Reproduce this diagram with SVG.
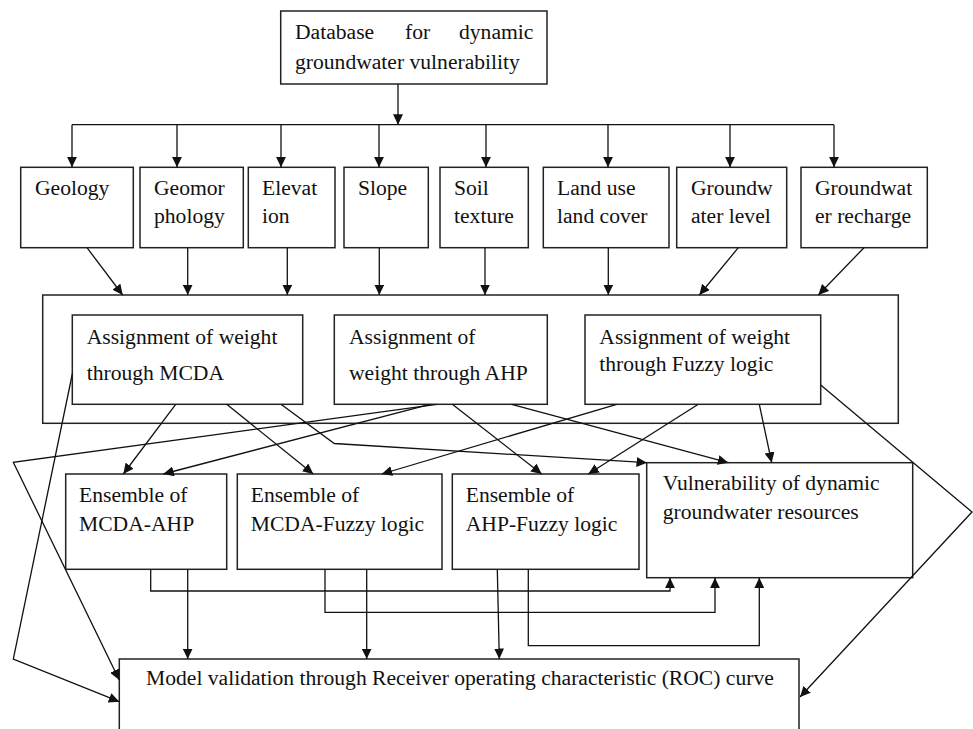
<svg xmlns="http://www.w3.org/2000/svg" width="973" height="729" viewBox="0 0 973 729">
<style>
.box{fill:#fff;stroke:#222;stroke-width:1.5}
.outer{fill:none;stroke:#222;stroke-width:1.5}
.t{font-family:"Liberation Serif","Times New Roman",serif;font-size:21.6px;fill:#111}
.c{fill:none;stroke:#111;stroke-width:1.3}
.a{marker-end:url(#ah)}
</style>
<defs>
<marker id="ah" markerUnits="userSpaceOnUse" markerWidth="11" markerHeight="10" refX="10.5" refY="5" orient="auto">
<path d="M0,0 L10.5,5 L0,10 z" fill="#111"/>
</marker>
</defs>
<rect width="973" height="729" fill="#fff"/>
<g id="assignment-container"><rect class="outer" x="42.7" y="295" width="855.6" height="128.3"/></g>
<g id="database"><rect class="box" x="280.7" y="11" width="266.3" height="73"/>
<text class="t" y="38.5"><tspan x="295">Database</tspan><tspan x="405">for</tspan><tspan x="459">dynamic</tspan></text>
<text class="t" x="295" y="69">groundwater vulnerability</text></g>
<g id="geology"><rect class="box" x="20.7" y="167.3" width="112.6" height="80.4"/><text class="t" x="35" y="195">Geology</text></g>
<g id="geomorphology"><rect class="box" x="140" y="167.3" width="103.3" height="80.4"/><text class="t" x="154" y="195">Geomor</text><text class="t" x="154" y="223">phology</text></g>
<g id="elevation"><rect class="box" x="248.3" y="167.3" width="86.7" height="80.4"/><text class="t" x="262" y="195">Elevat</text><text class="t" x="262" y="223">ion</text></g>
<g id="slope"><rect class="box" x="344" y="167.3" width="84.3" height="80.4"/><text class="t" x="358" y="195">Slope</text></g>
<g id="soil"><rect class="box" x="440" y="167.3" width="88.3" height="80.4"/><text class="t" x="454" y="195">Soil</text><text class="t" x="454" y="223">texture</text></g>
<g id="landuse"><rect class="box" x="543.3" y="167.3" width="125.7" height="80.4"/><text class="t" x="557" y="195">Land use</text><text class="t" x="557" y="223">land cover</text></g>
<g id="gwlevel"><rect class="box" x="676.7" y="167.3" width="110" height="80.4"/><text class="t" x="691" y="195">Groundw</text><text class="t" x="691" y="223">ater level</text></g>
<g id="gwrecharge"><rect class="box" x="801" y="167.3" width="126.3" height="80.4"/><text class="t" x="815" y="195">Groundwat</text><text class="t" x="815" y="223">er recharge</text></g>
<g id="mcda"><rect class="box" x="72.3" y="315" width="230.4" height="89.3"/><text class="t" x="86.7" y="344">Assignment of weight</text><text class="t" x="86.7" y="380">through MCDA</text></g>
<g id="ahp"><rect class="box" x="334.3" y="315" width="213" height="89.3"/><text class="t" x="349" y="344">Assignment of</text><text class="t" x="349" y="380">weight through AHP</text></g>
<g id="fuzzy"><rect class="box" x="585" y="315" width="235.7" height="89.3"/><text class="t" x="599.3" y="344">Assignment of weight</text><text class="t" x="599.3" y="371">through Fuzzy logic</text></g>
<g id="ens-mcda-ahp"><rect class="box" x="65.7" y="474" width="161" height="95.3"/><text class="t" x="79" y="502">Ensemble of</text><text class="t" x="79" y="531">MCDA-AHP</text></g>
<g id="ens-mcda-fuzzy"><rect class="box" x="237.3" y="474" width="204.7" height="95.3"/><text class="t" x="250.7" y="502">Ensemble of</text><text class="t" x="250.7" y="531">MCDA-Fuzzy logic</text></g>
<g id="ens-ahp-fuzzy"><rect class="box" x="452.3" y="474" width="186.7" height="95.3"/><text class="t" x="465.7" y="502">Ensemble of</text><text class="t" x="465.7" y="531">AHP-Fuzzy logic</text></g>
<g id="vulnerability"><rect class="box" x="646.7" y="462.7" width="266" height="115"/><text class="t" x="662.7" y="490">Vulnerability of dynamic</text><text class="t" x="662.7" y="518.5">groundwater resources</text></g>
<g id="roc"><rect class="box" x="119.3" y="659" width="679.7" height="85"/><text class="t" x="146" y="685">Model validation through Receiver operating characteristic (ROC) curve</text></g>
<g id="connectors">
<path class="c a" d="M398,84 V124.7"/>
<path class="c" d="M72,124.7 H834"/>
<path class="c a" d="M72,124.7 V167.3"/>
<path class="c a" d="M177,124.7 V167.3"/>
<path class="c a" d="M281,124.7 V167.3"/>
<path class="c a" d="M379,124.7 V167.3"/>
<path class="c a" d="M486,124.7 V167.3"/>
<path class="c a" d="M608,124.7 V167.3"/>
<path class="c a" d="M730,124.7 V167.3"/>
<path class="c a" d="M834,124.7 V167.3"/>
<path class="c a" d="M87,247.7 L122.7,295"/>
<path class="c a" d="M187.7,247.7 V295"/>
<path class="c a" d="M287.3,247.7 V295"/>
<path class="c a" d="M379.3,247.7 V295"/>
<path class="c a" d="M485,247.7 V295"/>
<path class="c a" d="M608.3,247.7 V295"/>
<path class="c a" d="M738.3,247.7 L699.3,295"/>
<path class="c a" d="M864,247.7 L818.3,295"/>
<path class="c a" d="M175.7,404.3 L123.3,474"/>
<path class="c a" d="M226.7,404.3 L313.3,474"/>
<path class="c a" d="M281,404.3 L334.3,443.5 L647,462.7"/>
<path class="c a" d="M436.7,404.3 L13.3,462.3 L119.3,680"/>
<path class="c a" d="M430,404.3 L163.3,474"/>
<path class="c a" d="M452.3,404.3 L541.7,474"/>
<path class="c a" d="M511.7,404.3 L728.3,462.7"/>
<path class="c a" d="M616.7,404.3 L381.7,474"/>
<path class="c a" d="M698.3,404.3 L588.3,474"/>
<path class="c a" d="M759.3,404.3 L771.7,462.7"/>
<path class="c a" d="M820.7,385 L972,512 L800,697"/>
<path class="c a" d="M72.3,374 L13.3,659 L119.3,701.7"/>
<path class="c a" d="M150.7,569.3 V591 H670 V577.7"/>
<path class="c a" d="M187.7,569.3 V659"/>
<path class="c a" d="M325,569.3 V612.3 H715 V577.7"/>
<path class="c a" d="M366.7,569.3 V659"/>
<path class="c a" d="M497.3,569.3 L499.3,659"/>
<path class="c a" d="M528.3,569.3 V645.7 H759.3 V577.7"/>
</g>
</svg>
